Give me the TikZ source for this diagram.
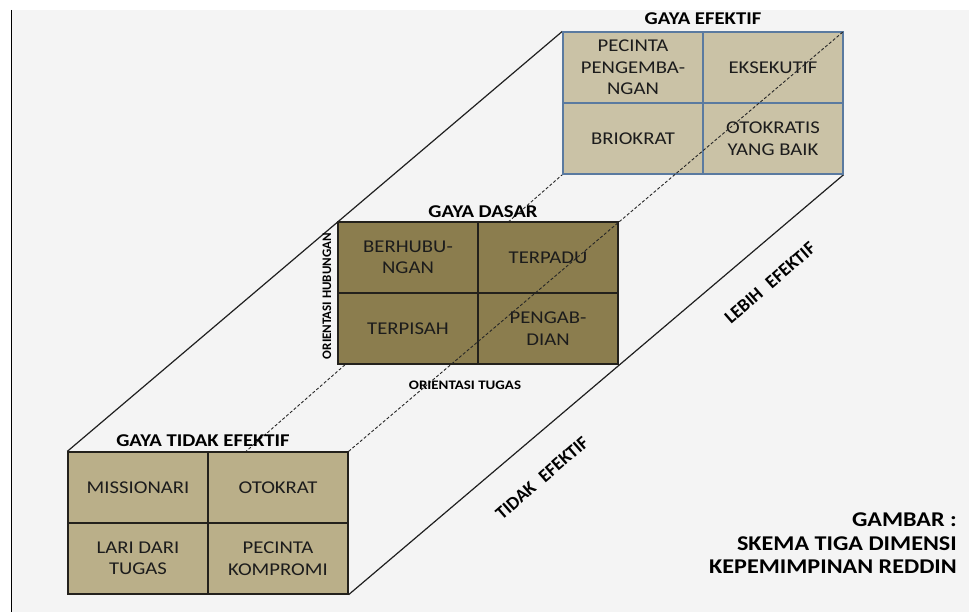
\documentclass[tikz,border=0pt]{standalone}
\usepackage{fontspec}
\setmainfont{Carlito}[FakeStretch=1.15]
\newfontfamily\narrowfont{Carlito}
\usetikzlibrary{backgrounds}
\definecolor{pagebg}{HTML}{F4F4F4}
\definecolor{topfill}{HTML}{CAC2A6}
\definecolor{topedge}{HTML}{5A7AA0}
\definecolor{midfill}{HTML}{8B7D4E}
\definecolor{botfill}{HTML}{BAAF89}
\definecolor{gridedge}{HTML}{23211C}
\definecolor{celltext}{HTML}{1C1C1C}
\tikzset{
  cell/.style={draw, minimum width=140pt, minimum height=71pt, inner sep=0pt,
    align=center, font=\fontsize{18}{21.5}\selectfont, text=celltext, line width=1.3pt},
  topcell/.style={cell, fill=topfill, draw=topedge},
  midcell/.style={cell, fill=midfill, draw=gridedge},
  botcell/.style={cell, fill=botfill, draw=gridedge},
  gridtitle/.style={font=\bfseries\fontsize{18}{21}\selectfont, inner sep=0pt},
  axislabel/.style={font=\bfseries\fontsize{13}{15}\selectfont, inner sep=0pt},
  diaglabel/.style={font=\narrowfont\bfseries\fontsize{18.5}{21}\selectfont, inner sep=0pt, rotate=41},
  caption/.style={font=\bfseries\fontsize{21}{24}\selectfont, inner sep=0pt, anchor=east},
  edgeline/.style={line width=1.2pt, draw=black!88},
  hiddenline/.style={line width=0.9pt, draw=black!85, dash pattern=on 3pt off 2pt},
}
\begin{document}
\begin{tikzpicture}[x=1pt,y=-1pt]
\useasboundingbox (0,0) rectangle (969,612);

% top grid: GAYA EFEKTIF
\node[topcell] (t11) at (633,67.5) {PECINTA\\PENGEMBA-\\NGAN};
\node[topcell] (t12) at (773,67.5) {EKSEKUTIF};
\node[topcell] (t21) at (633,138.5) {BRIOKRAT};
\node[topcell] (t22) at (773,138.5) {OTOKRATIS\\YANG BAIK};

% middle grid: GAYA DASAR
\node[midcell] (m11) at (408,257.5) {BERHUBU-\\NGAN};
\node[midcell] (m12) at (548,257.5) {TERPADU};
\node[midcell] (m21) at (408,328.5) {TERPISAH};
\node[midcell] (m22) at (548,328.5) {PENGAB-\\DIAN};

% bottom grid: GAYA TIDAK EFEKTIF
\node[botcell] (b11) at (138,487.5) {MISSIONARI};
\node[botcell] (b12) at (278,487.5) {OTOKRAT};
\node[botcell] (b21) at (138,558.5) {LARI DARI\\TUGAS};
\node[botcell] (b22) at (278,558.5) {PECINTA\\KOMPROMI};

\coordinate (backstart) at (83,594);

\begin{scope}[on background layer]
  \fill[white] (0,0) rectangle (969,612);
  \fill[pagebg] (11,10) rectangle (969,612);
  \draw[line width=1.8pt] (11.5,10) -- (11.5,612);
  \draw[edgeline] (b11.north west) -- (t11.north west);
  \draw[edgeline] (b22.south east) -- (t22.south east);
  \draw[hiddenline] (backstart) -- (t21.south west);
\end{scope}

% front edge, drawn over the grids
\draw[hiddenline] (b12.north east) -- (t12.north east);

% titles and axis labels
\node[gridtitle] (tt) at (703,19) {GAYA EFEKTIF};
\node[gridtitle] (mt) at (483,212) {GAYA DASAR};
\node[gridtitle] (bt) at (203,441) {GAYA TIDAK EFEKTIF};
\node[axislabel, font=\narrowfont\bfseries\fontsize{13}{15}\selectfont, rotate=90] (oh) at (327,296) {ORIENTASI HUBUNGAN};
\node[axislabel] (ot) at (465,385) {ORIENTASI TUGAS};
\node[diaglabel] (te) at (542,478) {TIDAK\hspace{0.55em}EFEKTIF};
\node[diaglabel] (le) at (770,283) {LEBIH\hspace{0.55em}EFEKTIF};

% caption
\node[caption] (c1) at (957,520) {GAMBAR :};
\node[caption] (c2) at (957,543.5) {SKEMA TIGA DIMENSI};
\node[caption] (c3) at (957,567) {KEPEMIMPINAN REDDIN};
\end{tikzpicture}
\end{document}
